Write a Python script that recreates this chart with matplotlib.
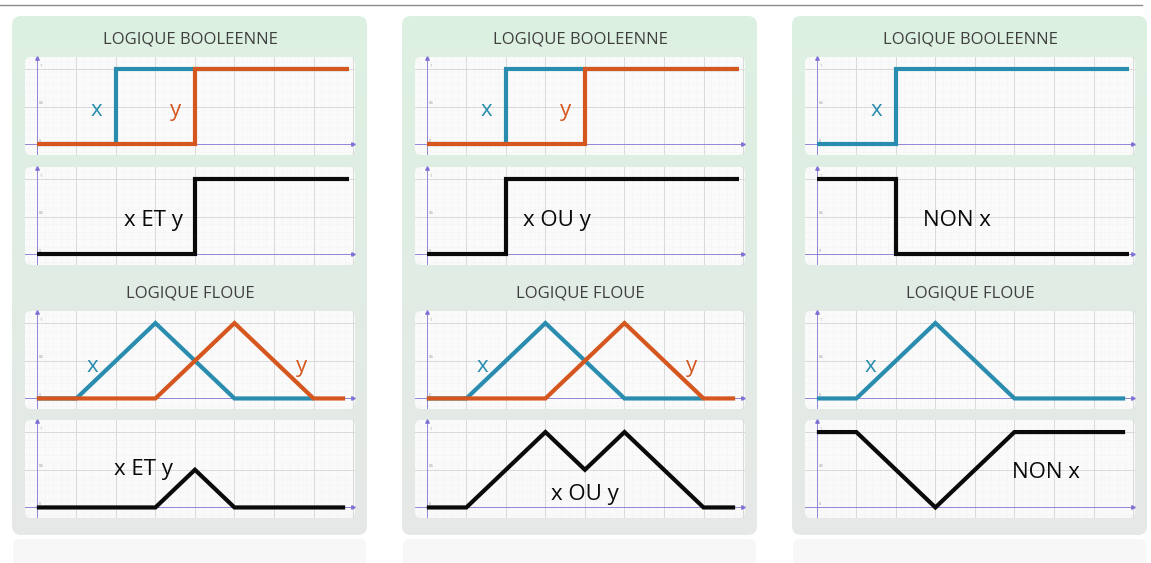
import numpy as np
import matplotlib.pyplot as plt
from matplotlib.patches import FancyBboxPatch

W, H = 1151, 563

# ---- data ----
titles = ["LOGIQUE BOOLEENNE", "LOGIQUE FLOUE"]

bool_x_t = [0, 2, 2, 7.9]
bool_x_v = [0, 0, 1, 1]
bool_y_t = [0, 4, 4, 7.9]
bool_y_v = [0, 0, 1, 1]
bool_and_t = [0, 4, 4, 7.9]
bool_and_v = [0, 0, 1, 1]
bool_or_t = [0, 2, 2, 7.9]
bool_or_v = [0, 0, 1, 1]
bool_not_t = [0, 2, 2, 7.9]
bool_not_v = [1, 1, 0, 0]

fuzzy_x_t = [0, 1, 3, 5, 7.0]
fuzzy_x_v = [0, 0, 1, 0, 0]
fuzzy_x_full_t = [0, 1, 3, 5, 7.8]
fuzzy_y_t = [0, 3, 5, 7, 7.8]
fuzzy_y_v = [0, 0, 1, 0, 0]
fuzzy_and_t = [0, 3, 4, 5, 7.8]
fuzzy_and_v = [0, 0, 0.5, 0, 0]
fuzzy_or_t = [0, 1, 3, 4, 5, 7, 7.8]
fuzzy_or_v = [0, 0, 1, 0.5, 1, 0, 0]
fuzzy_not_t = [0, 1, 3, 5, 7.8]
fuzzy_not_v = [1, 1, 0, 1, 1]

BLUE = "#2a8db0"
ORANGE = "#d5571f"
BLACK = "#0a0a0a"
PURPLE = "#7f72d6"

panel_left = [12, 402, 792]
plot_top = [57, 167, 311, 420]

plt.rcParams['font.family'] = ['Open Sans', 'DejaVu Sans']

fig = plt.figure(figsize=(W / 100, H / 100), dpi=100)
fig.patch.set_facecolor('white')

# background axes in pixel units
bg = fig.add_axes([0, 0, 1, 1])
bg.set_xlim(0, W)
bg.set_ylim(H, 0)
bg.axis('off')

bg.plot([0, 1142], [5, 5], color='#8c8c8c', lw=1.0)

grad = np.linspace(0, 1, 256).reshape(-1, 1)
top_c = np.array([0.865, 0.945, 0.885])
bot_c = np.array([0.900, 0.910, 0.905])
grad_img = top_c + (bot_c - top_c) * grad[:, :, None]

for L in panel_left:
    # reflection below
    refl = FancyBboxPatch((L + 1, 539), 353, 30, boxstyle="round,pad=0,rounding_size=6",
                          fc='#f7f7f7', ec='none')
    bg.add_patch(refl)
    shape = FancyBboxPatch((L, 16), 355, 519, boxstyle="round,pad=0,rounding_size=9",
                           fc='none', ec='none')
    bg.add_patch(shape)
    im = bg.imshow(grad_img, extent=(L, L + 355, 535, 16), aspect='auto', zorder=1)
    im.set_clip_path(shape)
    for t in plot_top:
        box = FancyBboxPatch((L + 13, t), 330, 98, boxstyle="round,pad=0,rounding_size=6",
                             fc='#fbfbfb', ec='none', alpha=0.95, zorder=2)
        bg.add_patch(box)
    bg.text(L + 178, 39, titles[0], ha='center', va='center', fontsize=12, color='#3f3f3f', zorder=3)
    bg.text(L + 178, 293, titles[1], ha='center', va='center', fontsize=12, color='#3f3f3f', zorder=3)


def make_ax(L, t):
    ax = fig.add_axes([(L + 13) / W, 1 - (t + 98) / H, 330 / W, 98 / H])
    ax.set_facecolor('none')
    ax.set_xlim(-0.3, 8.05)
    ax.set_ylim(-0.14, 1.16)
    ax.set_xticks(np.arange(0, 9, 1))
    ax.set_xticks(np.arange(-0.2, 8.05, 0.2), minor=True)
    ax.set_yticks([0, 0.5, 1])
    ax.set_yticks(np.arange(-0.1, 1.15, 0.1), minor=True)
    ax.tick_params(which='both', length=0, labelleft=False, labelbottom=False)
    ax.grid(which='major', color='#d9d9d9', lw=0.7)
    ax.grid(which='minor', color='#eeeeee', lw=0.5, ls=(0, (1, 1.5)))
    ax.set_axisbelow(True)
    for s in ax.spines.values():
        s.set_visible(False)
    ax.axhline(0, color=PURPLE, lw=0.7, alpha=0.8)
    ax.axvline(0, color=PURPLE, lw=0.7, alpha=0.8)
    ax.plot([8.0], [0], marker='>', ms=2.5, color=PURPLE, clip_on=False)
    ax.plot([0], [1.15], marker='^', ms=2.5, color=PURPLE, clip_on=False)
    for yv, lab in [(0, "0"), (0.5, "0.5"), (1, "1")]:
        ax.text(0.06, yv + 0.03, lab, fontsize=2.5, color='#888888')
    return ax


def line(ax, tx, vy, c):
    ax.plot(tx, vy, color=c, lw=3, solid_capstyle='butt', solid_joinstyle='miter', zorder=5)


def label(ax, x, y, s, c, size=16):
    ax.text(x, y, s, color=c, fontsize=size, ha='center', va='center', zorder=6)


# panel 1 : ET
L = panel_left[0]
ax = make_ax(L, plot_top[0])
line(ax, bool_x_t, bool_x_v, BLUE)
line(ax, bool_y_t, bool_y_v, ORANGE)
label(ax, 1.5, 0.45, "x", BLUE)
label(ax, 3.5, 0.45, "y", ORANGE)
ax = make_ax(L, plot_top[1])
line(ax, bool_and_t, bool_and_v, BLACK)
label(ax, 2.95, 0.45, "x ET y", BLACK)
ax = make_ax(L, plot_top[2])
line(ax, fuzzy_x_t, fuzzy_x_v, BLUE)
line(ax, fuzzy_y_t, fuzzy_y_v, ORANGE)
label(ax, 1.4, 0.43, "x", BLUE)
label(ax, 6.7, 0.43, "y", ORANGE)
ax = make_ax(L, plot_top[3])
line(ax, fuzzy_and_t, fuzzy_and_v, BLACK)
label(ax, 2.7, 0.5, "x ET y", BLACK)

# panel 2 : OU
L = panel_left[1]
ax = make_ax(L, plot_top[0])
line(ax, bool_x_t, bool_x_v, BLUE)
line(ax, bool_y_t, bool_y_v, ORANGE)
label(ax, 1.5, 0.45, "x", BLUE)
label(ax, 3.5, 0.45, "y", ORANGE)
ax = make_ax(L, plot_top[1])
line(ax, bool_or_t, bool_or_v, BLACK)
label(ax, 3.3, 0.45, "x OU y", BLACK)
ax = make_ax(L, plot_top[2])
line(ax, fuzzy_x_t, fuzzy_x_v, BLUE)
line(ax, fuzzy_y_t, fuzzy_y_v, ORANGE)
label(ax, 1.4, 0.43, "x", BLUE)
label(ax, 6.7, 0.43, "y", ORANGE)
ax = make_ax(L, plot_top[3])
line(ax, fuzzy_or_t, fuzzy_or_v, BLACK)
label(ax, 4.0, 0.17, "x OU y", BLACK)

# panel 3 : NON
L = panel_left[2]
ax = make_ax(L, plot_top[0])
line(ax, bool_x_t, bool_x_v, BLUE)
label(ax, 1.5, 0.45, "x", BLUE)
ax = make_ax(L, plot_top[1])
line(ax, bool_not_t, bool_not_v, BLACK)
label(ax, 3.55, 0.45, "NON x", BLACK)
ax = make_ax(L, plot_top[2])
line(ax, fuzzy_x_full_t, fuzzy_x_v, BLUE)
label(ax, 1.35, 0.43, "x", BLUE)
ax = make_ax(L, plot_top[3])
line(ax, fuzzy_not_t, fuzzy_not_v, BLACK)
label(ax, 5.8, 0.47, "NON x", BLACK)

fig.savefig("out.png", dpi=100, facecolor='white')
